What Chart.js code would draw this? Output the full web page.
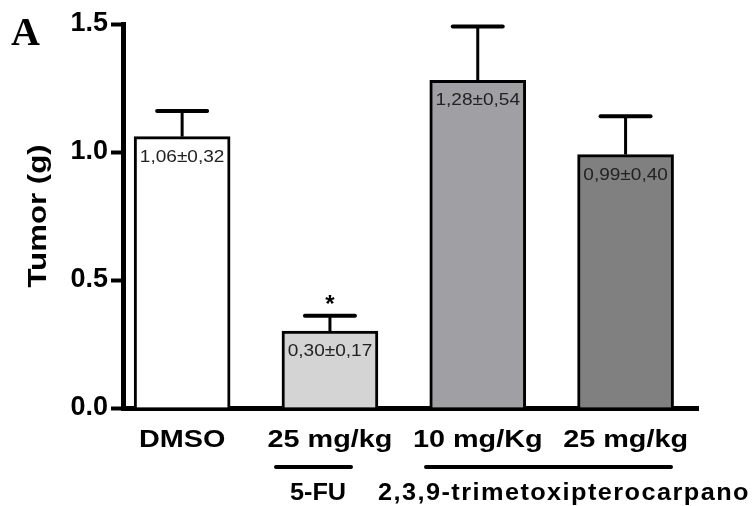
<!DOCTYPE html>
<html>
<head>
    <title>Tumor weight</title>
    <style>
        body { margin: 0; background: #fff; }
        #wrap { width: 754px; height: 506px; }
    </style>
</head>
<body>
    <div id="wrap"><canvas id="bar-chart" width="754" height="506"></canvas></div>

    <script src="https://cdn.jsdelivr.net/npm/chart.js"></script>
    <script>
        // data
        const groups = ['DMSO', '25 mg/kg', '10 mg/Kg', '25 mg/kg'];
        const meanTumor = [1.06, 0.30, 1.28, 0.99];
        const errTumor = [0.10, 0.06, 0.21, 0.15];
        const barTexts = ['1,06\u00b10,32', '0,30\u00b10,17', '1,28\u00b10,54', '0,99\u00b10,40'];
        const barColors = ['#ffffff', '#d4d4d4', '#a0a0a4', '#808080'];
        const yTicks = [0, 0.5, 1.0, 1.5];
        const signif = ['', '*', '', ''];

        const sans = '"Liberation Sans", Arial, sans-serif';

        // text drawn a bit wider than the font, like the original figure
        function wideText(ctx, txt, x, y, sx) {
            ctx.save();
            ctx.translate(x, y);
            ctx.scale(sx, 1);
            ctx.fillText(txt, 0, 0);
            ctx.restore();
        }

        const extras = {
            id: 'extras',
            afterDatasetsDraw(chart) {
                const ctx = chart.ctx;
                const y = chart.scales.y;
                const meta = chart.getDatasetMeta(0);
                ctx.save();
                meta.data.forEach((bar, i) => {
                    const top = y.getPixelForValue(meanTumor[i] + errTumor[i]);
                    // error bar (upper only)
                    ctx.strokeStyle = '#000';
                    ctx.lineWidth = 3;
                    ctx.beginPath();
                    ctx.moveTo(bar.x, bar.y);
                    ctx.lineTo(bar.x, top);
                    ctx.stroke();
                    ctx.lineWidth = 4;
                    ctx.lineCap = 'round';
                    ctx.beginPath();
                    ctx.moveTo(bar.x - 25, top);
                    ctx.lineTo(bar.x + 25, top);
                    ctx.stroke();
                    ctx.lineCap = 'butt';

                    // mean ± sd inside the bar
                    ctx.fillStyle = '#222';
                    ctx.font = '17px ' + sans;
                    ctx.textAlign = 'center';
                    ctx.textBaseline = 'alphabetic';
                    wideText(ctx, barTexts[i], bar.x, bar.y + 25, 1.12);

                    if (signif[i]) {
                        ctx.fillStyle = '#000';
                        ctx.font = 'bold 24px ' + sans;
                        ctx.textBaseline = 'bottom';
                        ctx.fillText(signif[i], bar.x, top + 2);
                    }

                    // group name under the bar
                    ctx.fillStyle = '#000';
                    ctx.font = 'bold 24px ' + sans;
                    ctx.textBaseline = 'alphabetic';
                    wideText(ctx, groups[i], bar.x, 447, 1.2);
                });

                // brackets and treatment names
                ctx.strokeStyle = '#000';
                ctx.lineWidth = 4;
                ctx.lineCap = 'round';
                ctx.beginPath();
                ctx.moveTo(276, 467); ctx.lineTo(351, 467);
                ctx.moveTo(426, 467); ctx.lineTo(671, 467);
                ctx.stroke();

                ctx.fillStyle = '#000';
                ctx.textAlign = 'center';
                ctx.textBaseline = 'alphabetic';
                ctx.font = 'bold 23px ' + sans;
                wideText(ctx, '5-FU', 318, 500, 1.1);
                ctx.letterSpacing = '1.3px';
                wideText(ctx, '2,3,9-trimetoxipterocarpano', 564, 500, 1.1);
                ctx.letterSpacing = '0px';

                // y axis title, rotated
                ctx.save();
                ctx.translate(46, 216);
                ctx.rotate(-Math.PI / 2);
                ctx.font = 'bold 26px ' + sans;
                ctx.textBaseline = 'alphabetic';
                wideText(ctx, 'Tumor (g)', 0, 0, 1.2);
                ctx.restore();

                ctx.font = 'bold 40px "Liberation Serif", "Times New Roman", serif';
                ctx.textAlign = 'left';
                ctx.fillText('A', 11, 45);
                ctx.restore();
            }
        };

        new Chart(document.getElementById('bar-chart').getContext('2d'), {
            type: 'bar',
            data: {
                datasets: [{
                    data: meanTumor.map((v, i) => ({ x: i, y: v })),
                    backgroundColor: barColors,
                    borderColor: '#000',
                    borderWidth: 3,
                    borderSkipped: 'bottom',
                    barThickness: 96
                }]
            },
            options: {
                responsive: false,
                animation: false,
                devicePixelRatio: 1,
                layout: { padding: { top: 24, right: 56, bottom: 0, left: 0 } },
                plugins: {
                    legend: { display: false },
                    tooltip: { enabled: false }
                },
                scales: {
                    x: {
                        type: 'linear',
                        min: -0.4,
                        max: 3.49,
                        offset: false,
                        grid: { display: false },
                        border: { color: '#000', width: 5 },
                        ticks: { display: false },
                        afterFit(scale) { scale.height = 98; }
                    },
                    y: {
                        min: 0,
                        max: 1.5,
                        afterBuildTicks(scale) { scale.ticks = yTicks.map(v => ({ value: v })); },
                        afterFit(scale) { scale.width = 123; },
                        grid: {
                            drawOnChartArea: false,
                            tickLength: 12,
                            tickWidth: 4,
                            tickColor: '#000'
                        },
                        border: { color: '#000', width: 5 },
                        ticks: {
                            color: '#000',
                            padding: 3,
                            font: { family: sans, size: 27, weight: 'bold' },
                            callback: v => v.toFixed(1)
                        }
                    }
                }
            },
            plugins: [extras]
        });
    </script>
</body>
</html>
